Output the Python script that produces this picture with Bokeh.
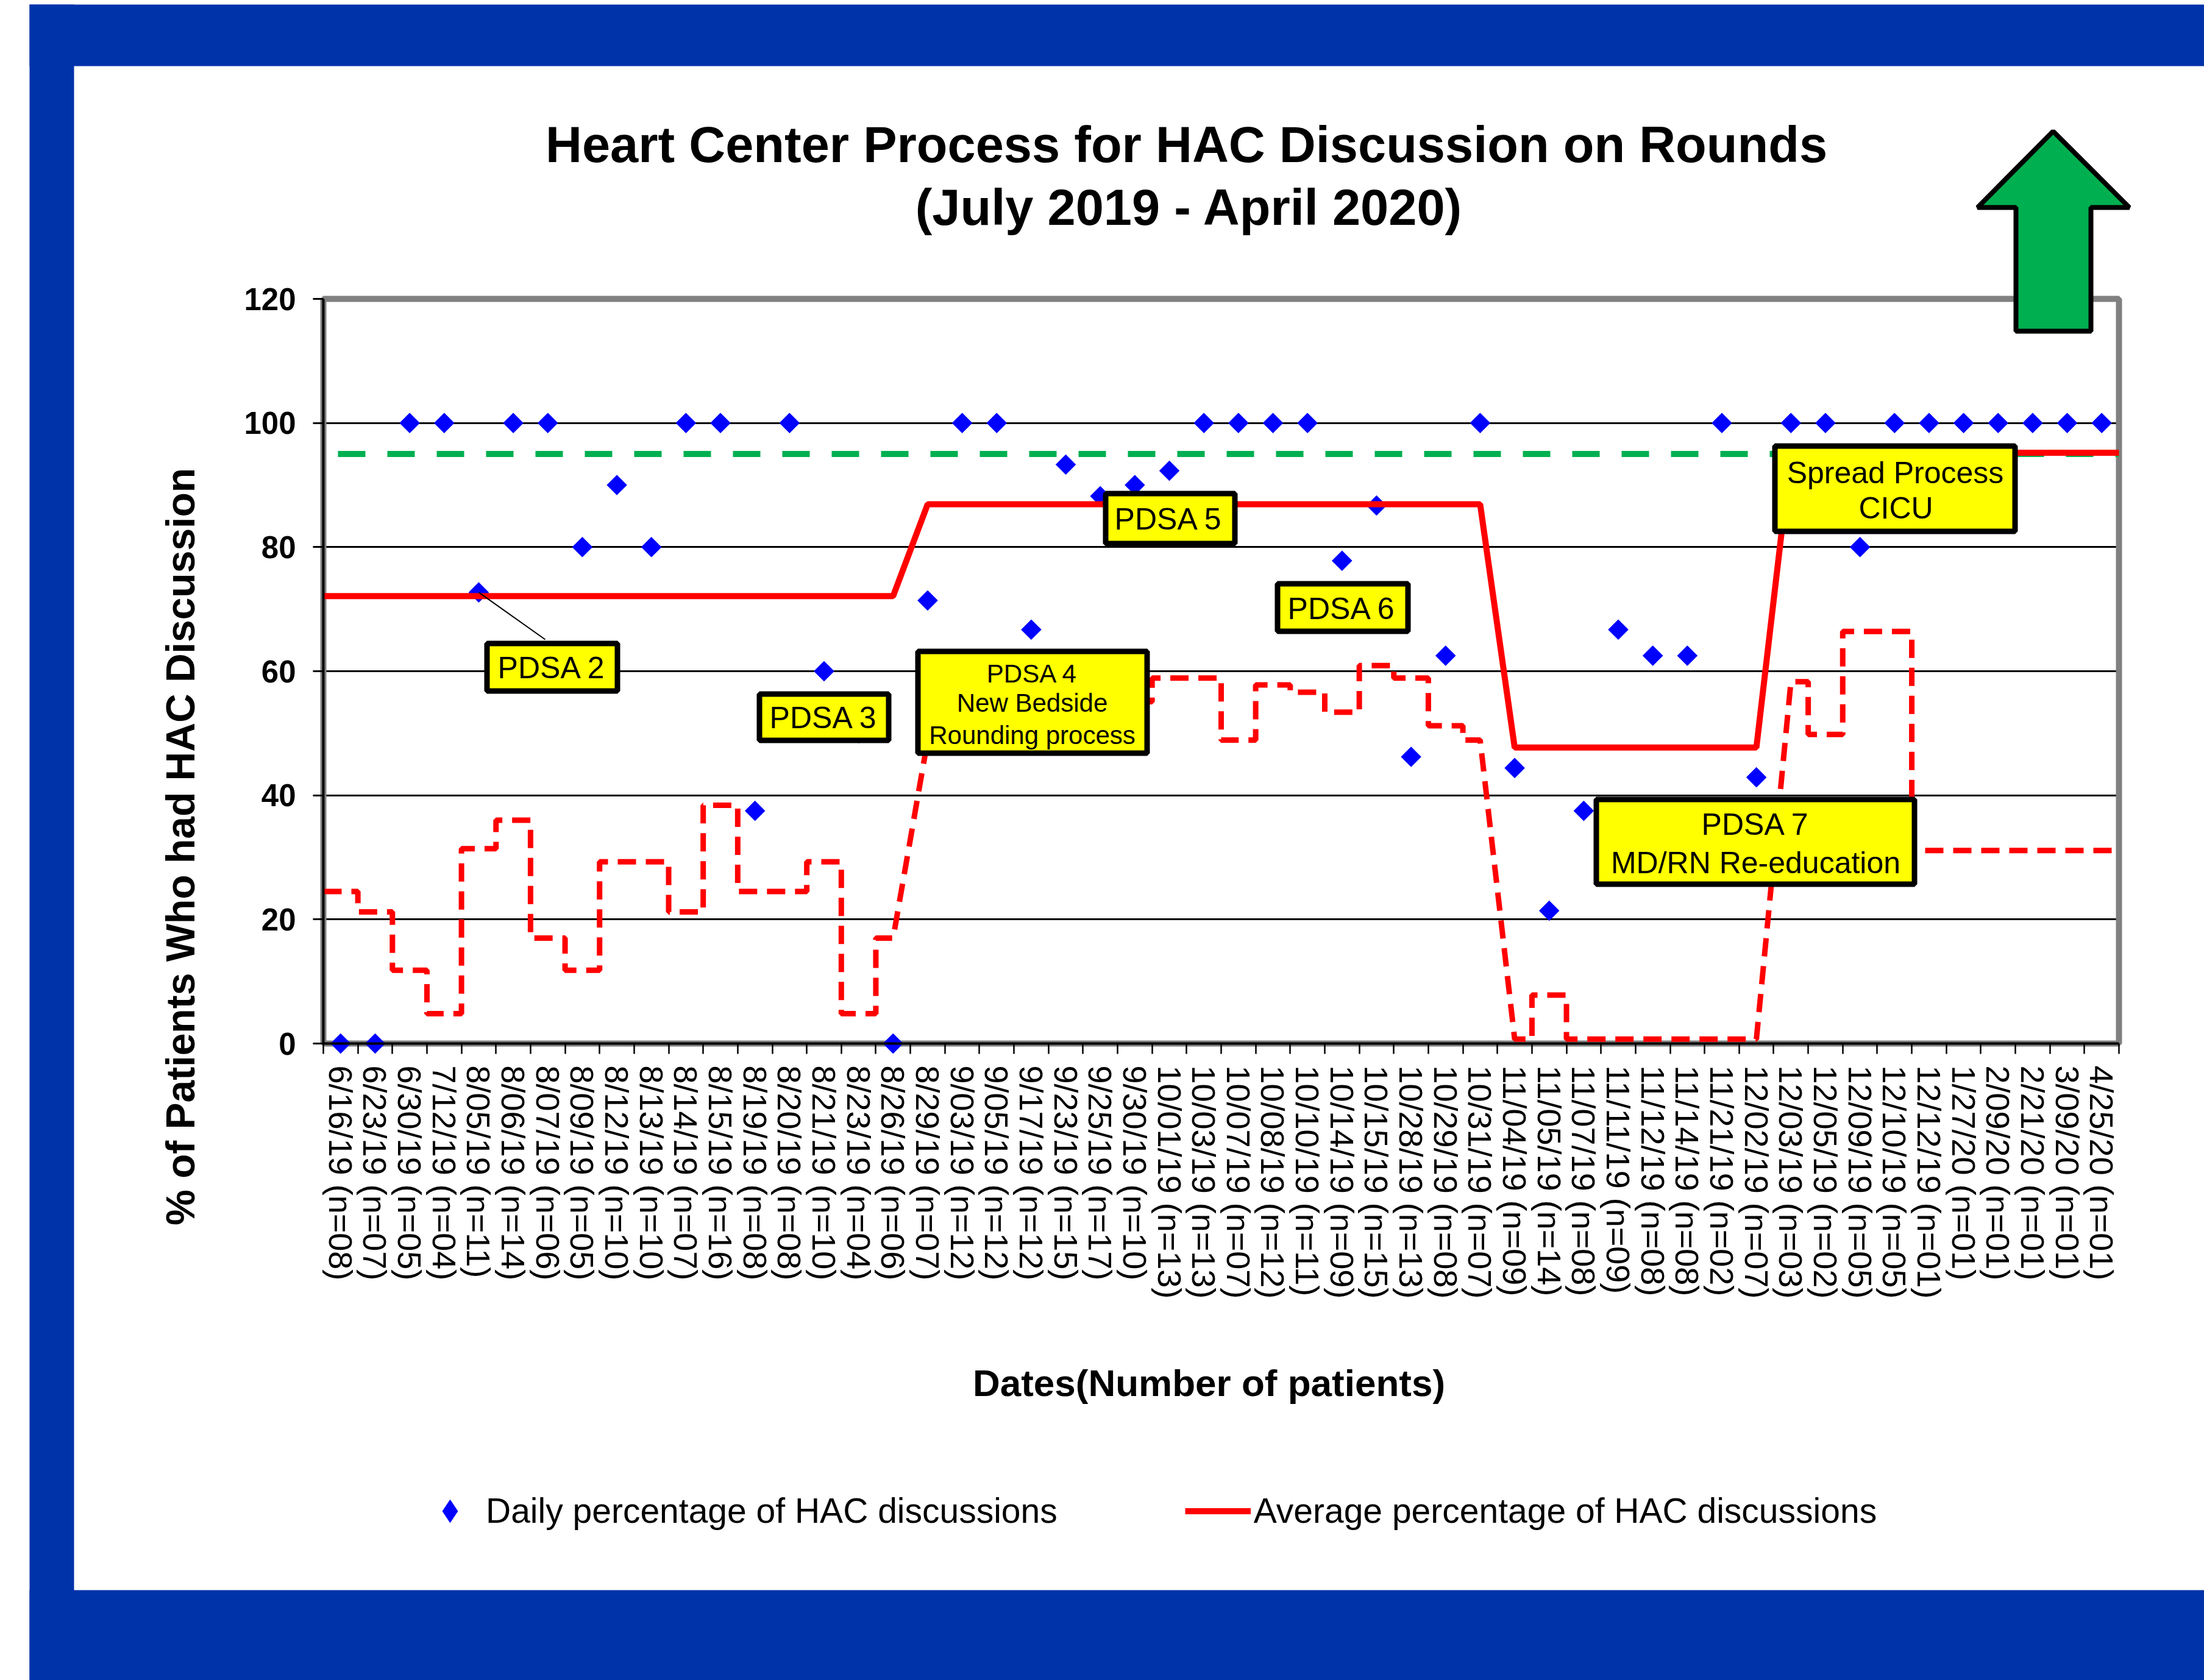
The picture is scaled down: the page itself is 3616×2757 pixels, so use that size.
import math
from bokeh.plotting import figure
from bokeh.models import (Range1d, FixedTicker, Label, BoxAnnotation, PolyAnnotation,
                          Legend, LegendItem)
from bokeh.embed import file_html
from bokeh.resources import INLINE

# ---------------- data ----------------
dates = ["6/16/19", "6/23/19", "6/30/19", "7/12/19", "8/05/19", "8/06/19", "8/07/19",
         "8/09/19", "8/12/19", "8/13/19", "8/14/19", "8/15/19", "8/19/19", "8/20/19",
         "8/21/19", "8/23/19", "8/26/19", "8/29/19", "9/03/19", "9/05/19", "9/17/19",
         "9/23/19", "9/25/19", "9/30/19", "10/01/19", "10/03/19", "10/07/19", "10/08/19",
         "10/10/19", "10/14/19", "10/15/19", "10/28/19", "10/29/19", "10/31/19",
         "11/04/19", "11/05/19", "11/07/19", "11/11/19", "11/12/19", "11/14/19",
         "11/21/19", "12/02/19", "12/03/19", "12/05/19", "12/09/19", "12/10/19",
         "12/12/19", "1/27/20", "2/09/20", "2/21/20", "3/09/20", "4/25/20"]
n_patients = ["08", "07", "05", "04", "11", "14", "06", "05", "10", "10", "07", "16", "08",
              "08", "10", "04", "06", "07", "12", "12", "12", "15", "17", "10", "13", "13",
              "07", "12", "11", "09", "15", "13", "08", "07", "09", "14", "08", "09", "08",
              "08", "02", "07", "03", "02", "05", "05", "01", "01", "01", "01", "01", "01"]
daily_pct = [0, 0, 100, 100, 72.7, 100, 100, 80, 90, 80, 100, 100, 37.5, 100, 60, 50, 0,
             71.4, 100, 100, 66.7, 93.3, 88.2, 90, 92.3, 100, 100, 100, 100, 77.8, 86.7,
             46.2, 62.5, 100, 44.4, 21.4, 37.5, 66.7, 62.5, 62.5, 100, 42.9, 100, 100, 80,
             100, 100, 100, 100, 100, 100, 100]
average_pct = [72.1] * 17 + [86.9] * 17 + [47.7] * 8 + [95.2] * 10
lower_limit_pct = [24.5, 21.2, 11.8, 4.8, 31.4, 36.0, 17.0, 11.8, 29.3, 29.3, 21.2, 38.4,
                   24.5, 24.5, 29.3, 4.8, 17.0,
                   48.9, 57.8, 57.8, 57.8, 60.9, 62.5, 55.1, 58.9, 58.9, 48.9, 57.8, 56.6,
                   53.4, 60.9, 58.9, 51.2, 48.9,
                   0.7, 7.8, 0.7, 0.7, 0.7, 0.7, 0.7, 0.7,
                   58.3, 49.8, 66.4, 66.4, 31.1, 31.1, 31.1, 31.1, 31.1, 31.1]
target_pct = 95
y_ticks = [0, 20, 40, 60, 80, 100, 120]
y_grid = [20, 40, 60, 80, 100]
Y_MAX = 120

labels = [f"{d} (n={n})" for d, n in zip(dates, n_patients)]
N = len(labels)
xs = list(range(1, N + 1))

# ---------------- geometry (canvas pixels of the plot area) ----------------
W, H = 3616, 2757
FL, FR, FT, FB = 530, 3476, 490, 1712
FONT = "Liberation Sans"
ppu_x = (FR - FL) / N
ppu_y = (FB - FT) / Y_MAX
x_start = 0.5 - FL / ppu_x
x_end = x_start + W / ppu_x
y_end = Y_MAX + FT / ppu_y
y_start = y_end - H / ppu_y


def X(rx):  # picture x pixel -> data x
    return x_start + rx / ppu_x


def Y(ry):  # picture y pixel -> data y
    return y_end - ry / ppu_y


p = figure(width=W, height=H, output_backend="svg", toolbar_location=None, title=None,
           x_range=Range1d(x_start, x_end), y_range=Range1d(y_start, y_end),
           min_border=0, min_border_left=0, min_border_right=0, min_border_top=0,
           min_border_bottom=0, background_fill_color="white",
           border_fill_color="white")
p.outline_line_color = None

# plot-area border
p.add_layout(BoxAnnotation(left=0.5, right=N + 0.5, bottom=0, top=Y_MAX, fill_color=None,
                           fill_alpha=0, line_color="#808080", line_alpha=1,
                           line_width=10, level="underlay"))


def step_path(vals):
    px, py = [], []
    for i in range(N):
        new_reg = i > 0 and average_pct[i] != average_pct[i - 1]
        end_reg = i < N - 1 and average_pct[i] != average_pct[i + 1]
        x0 = xs[i] if new_reg else xs[i] - 0.5
        x1 = xs[i] if end_reg else xs[i] + 0.5
        px += [x0, x1]
        py += [vals[i], vals[i]]
    return px, py


# target line
p.line([0.5, N + 0.5], [target_pct, target_pct], line_color="#00B050", line_width=10,
       line_dash="45 36", line_dash_offset=57)
# daily points (legend uses an equivalent diamond glyph)
sc_leg = p.scatter(xs, daily_pct, marker="diamond", size=37, fill_color="#0000FF",
                   line_color="#0000FF", visible=False)
sc = p.scatter(xs, daily_pct, marker="square", angle=math.pi / 4, size=23,
               fill_color="#0000FF", line_color="#0000FF")
# lower limit (dashed step)
lx, ly = step_path(lower_limit_pct)
p.line(lx, ly, line_color="#FF0000", line_width=9, line_dash="30 16")
# average line
ax_, ay_ = step_path(average_pct)
avg = p.line(ax_, ay_, line_color="#FF0000", line_width=10)
# leader line to PDSA 2 box
p.segment(x0=[xs[4]], y0=[daily_pct[4]], x1=[X(894)], y1=[Y(1049)], line_color="black",
          line_width=2)

# ---------------- axes (fixed at the plot-area edges) ----------------
p.xaxis.fixed_location = 0
p.xaxis.bounds = (0.5, N + 0.5)
p.xaxis.ticker = FixedTicker(ticks=xs, minor_ticks=[k + 0.5 for k in range(N + 1)])
p.xaxis.major_label_overrides = {x: lab for x, lab in zip(xs, labels)}
p.xaxis.major_label_orientation = "vertical"
p.xaxis.major_label_text_font = FONT
p.xaxis.major_label_text_font_size = "54px"
p.xaxis.major_label_text_color = "black"
p.xaxis.major_tick_out = 17
p.xaxis.major_tick_in = 0
p.xaxis.major_tick_line_color = None
p.xaxis.major_label_standoff = 19
p.xaxis.minor_tick_out = 17
p.xaxis.minor_tick_in = 0
p.xaxis.minor_tick_line_color = "black"
p.xaxis.minor_tick_line_width = 2.5
p.xaxis.axis_line_color = "black"
p.xaxis.axis_line_width = 4

p.yaxis.fixed_location = 0.5
p.yaxis.bounds = (0, Y_MAX)
p.yaxis.ticker = FixedTicker(ticks=y_ticks)
p.yaxis.major_label_text_font = FONT
p.yaxis.major_label_text_font_size = "51px"
p.yaxis.major_label_text_font_style = "bold"
p.yaxis.major_label_text_color = "black"
p.yaxis.major_tick_out = 17
p.yaxis.major_tick_in = 0
p.yaxis.major_tick_line_width = 3
p.yaxis.major_tick_line_color = "black"
p.yaxis.minor_tick_line_color = None
p.yaxis.major_label_standoff = 28
p.yaxis.axis_line_color = "black"
p.yaxis.axis_line_width = 4

p.xgrid.visible = False
p.ygrid.ticker = FixedTicker(ticks=y_grid)
p.ygrid.grid_line_color = "black"
p.ygrid.grid_line_width = 3
try:
    p.ygrid.cross_bounds = (0.5, N + 0.5)
except Exception:
    p.ygrid.visible = False
    p.segment(x0=[0.5] * len(y_grid), y0=y_grid, x1=[N + 0.5] * len(y_grid), y1=y_grid,
              line_color="black", line_width=3, level="underlay")

# ---------------- frame decoration (blue bands) ----------------
BLUE = "#0033AA"
for (l, r, t, b) in [(48, 121, 7, 2780), (48, 3640, 7, 108), (48, 3640, 2609, 2780)]:
    p.add_layout(BoxAnnotation(left=X(l), right=X(r), top=Y(t), bottom=Y(b),
                               fill_color=BLUE, fill_alpha=1, line_color=None))


def box(l, r, t, b, lw=9):
    h = lw / 2
    p.add_layout(BoxAnnotation(left=X(l + h), right=X(r - h), top=Y(t + h),
                               bottom=Y(b - h), fill_color="#FFFF00", fill_alpha=1,
                               line_color="black", line_alpha=1, line_width=lw))


def text(rx, ry, s, size, bold=False, angle=0.0):
    p.add_layout(Label(x=X(rx), y=Y(ry), text=s, text_font=FONT,
                       text_font_size=f"{size}px",
                       text_font_style="bold" if bold else "normal",
                       text_align="center", text_baseline="middle", angle=angle,
                       text_color="black"))


# annotation boxes
box(794, 1017, 1051, 1138)
box(1241, 1462, 1134, 1219)
box(1501, 1886, 1064, 1240)
box(1809, 2030, 805, 896)
box(2091, 2314, 953, 1040)
box(2907, 3310, 727, 876)
box(2614, 3145, 1307, 1455)

text(905, 1095, "PDSA 2", 50)
text(1351, 1177, "PDSA 3", 50)
text(1693, 1105, "PDSA 4", 42)
text(1693, 1153, "New Bedside", 42)
text(1693, 1206, "Rounding process", 42)
text(1917, 851, "PDSA 5", 50)
text(2201, 998, "PDSA 6", 50)
text(3109, 775, "Spread Process", 50)
text(3110, 833, "CICU", 50)
text(2880, 1352, "PDSA 7", 50)
text(2880, 1415, "MD/RN Re-education", 50)

# green "higher is better" arrow
arrow_x = [3368, 3493, 3430, 3430, 3307, 3307, 3244]
arrow_y = [215, 340, 340, 543, 543, 340, 340]
p.add_layout(PolyAnnotation(xs=[X(v) for v in arrow_x], ys=[Y(v) for v in arrow_y],
                            fill_color="#00AF50", fill_alpha=1, line_color="black",
                            line_alpha=1, line_width=8))

# titles
text(1946, 237, "Heart Center Process for HAC Discussion on Rounds", 83, bold=True)
text(1951, 340, "(July 2019 - April 2020)", 83, bold=True)
text(295, 1389, "% of Patients Who had HAC Discussion", 66, bold=True, angle=math.pi / 2)
text(1983, 2269, "Dates(Number of patients)", 62, bold=True)

# legend (marker size in a legend is 0.4 x glyph box)
LEG_H = 93
legend = Legend(items=[LegendItem(label="Daily percentage of HAC discussions",
                                  renderers=[sc_leg]),
                       LegendItem(label="Average percentage of HAC discussions",
                                  renderers=[avg])],
                orientation="horizontal", location=(684, H - (2479 + LEG_H / 2)),
                glyph_width=108, glyph_height=LEG_H, label_height=LEG_H,
                label_standoff=5, spacing=209, padding=0, margin=0,
                label_text_font=FONT, label_text_font_size="57px",
                label_text_color="black", border_line_color=None,
                background_fill_alpha=0, inactive_fill_alpha=0)
p.add_layout(legend)

open("out.html", "w").write(file_html(p, INLINE))
